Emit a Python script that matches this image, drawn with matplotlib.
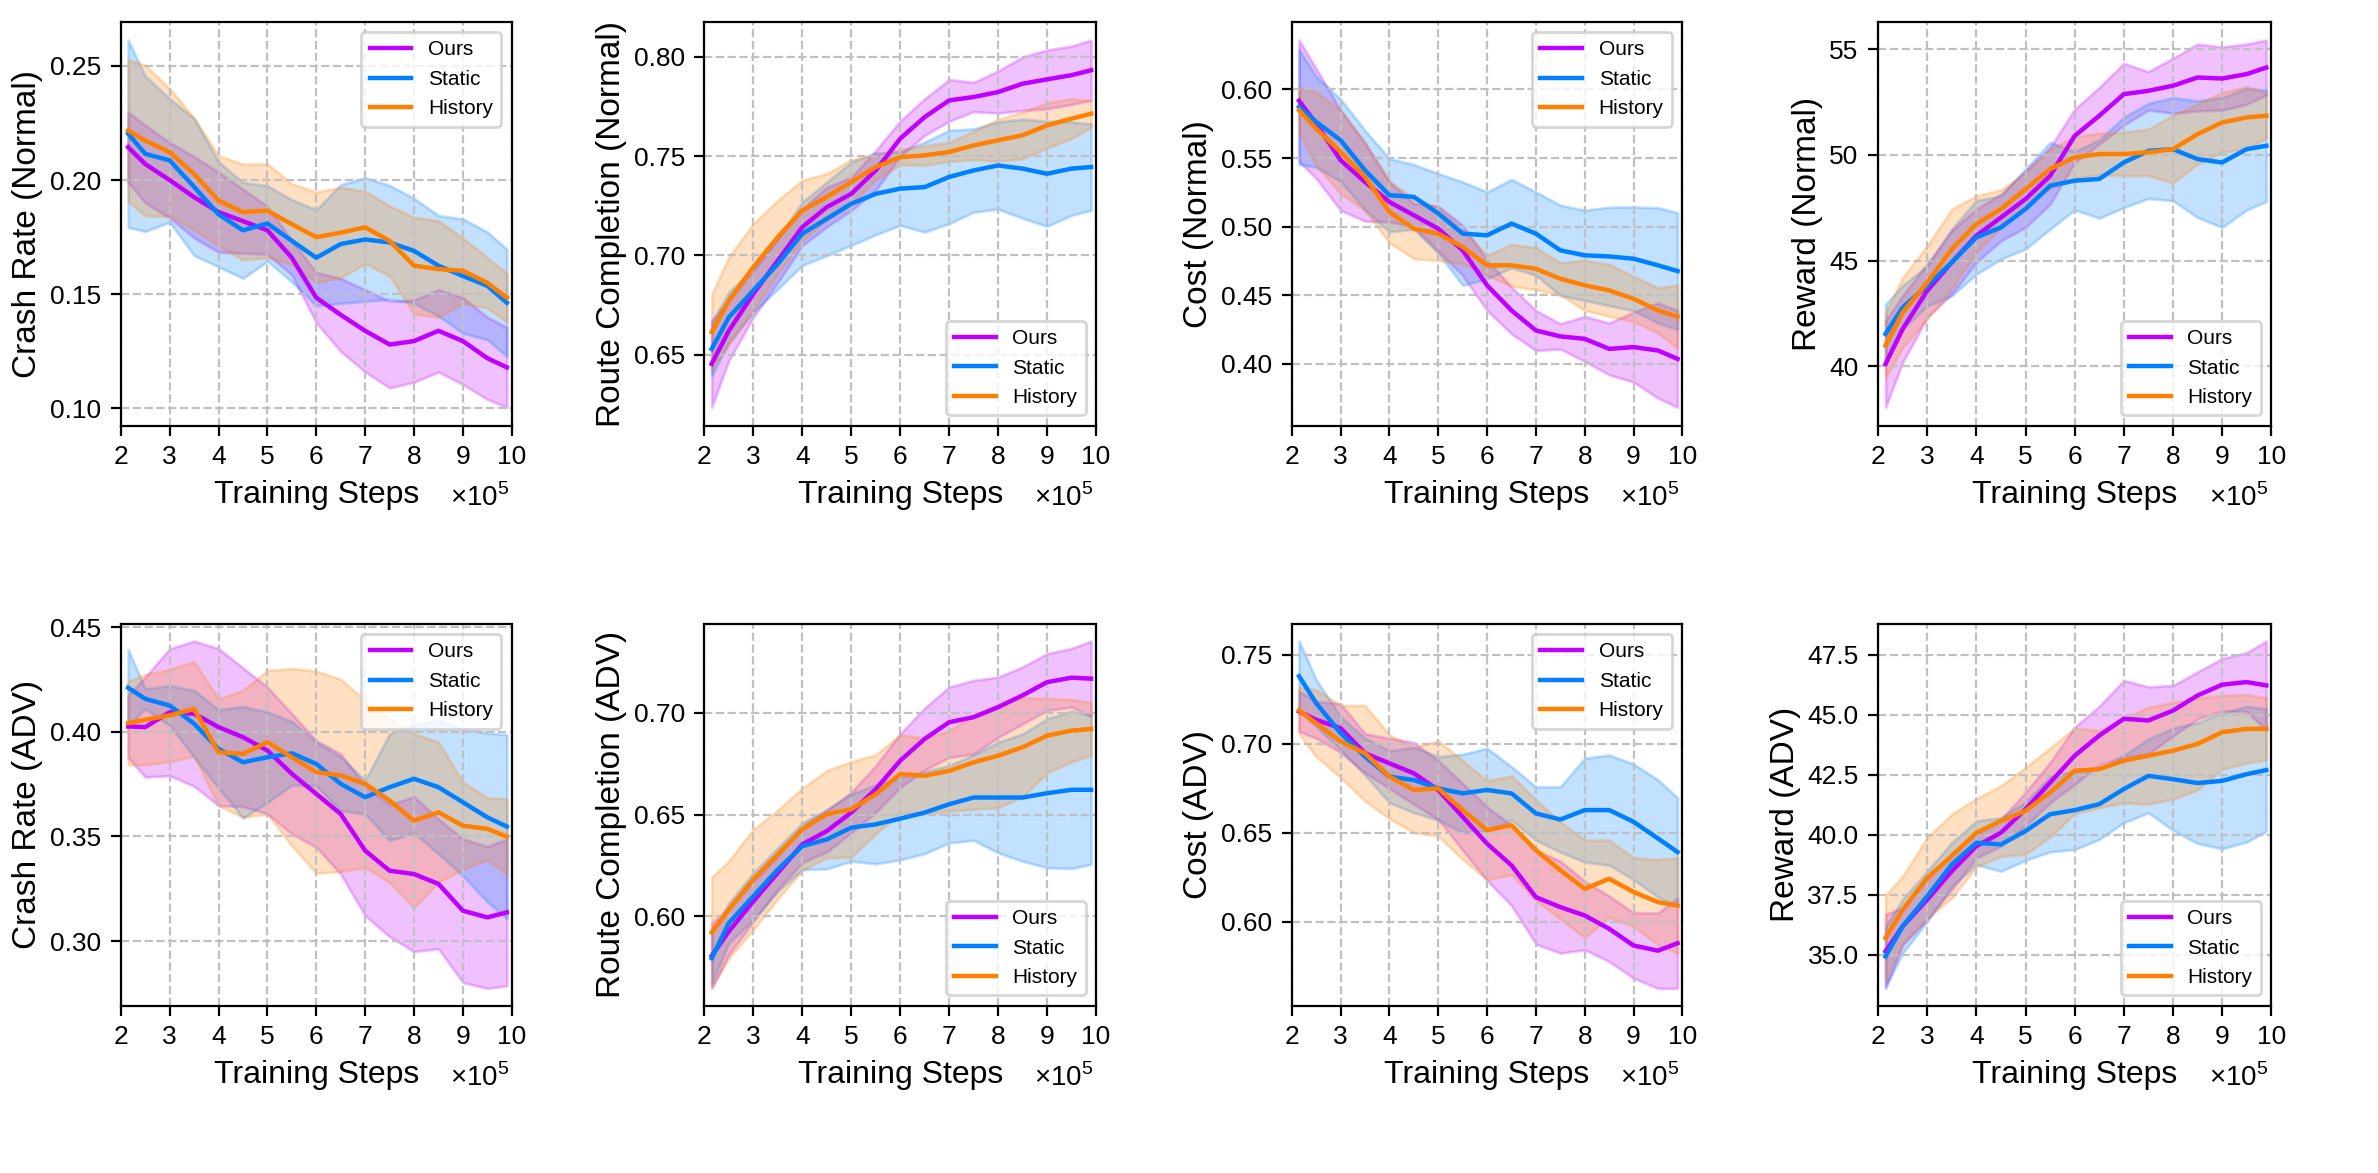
import matplotlib
matplotlib.use('Agg')
import matplotlib.pyplot as plt
import numpy as np

plt.rcParams['font.family'] = ['Liberation Sans', 'DejaVu Sans']
plt.rcParams['mathtext.fontset'] = 'custom'
plt.rcParams['mathtext.rm'] = 'Liberation Sans'

#------------------------------
# data (mean and std)
#------------------------------

steps = [2.15, 2.5, 3.0, 3.5, 4.0, 4.5, 5.0, 5.5, 6.0, 6.5, 7.0, 7.5, 8.0, 8.5, 9.0, 9.5, 9.9]
methods = ['Ours', 'Static', 'History']

# Crash Rate (Normal)
crash_n_ours = [0.2144, 0.207, 0.200, 0.1925, 0.186, 0.182, 0.178, 0.166, 0.1485, 0.141, 0.134, 0.128, 0.1295, 0.134, 0.1295, 0.122, 0.118]
crash_n_ours_sd = [0.0154, 0.017, 0.0165, 0.0178, 0.0175, 0.014, 0.0105, 0.0075, 0.011, 0.016, 0.018, 0.019, 0.018, 0.018, 0.019, 0.018, 0.0175]
crash_n_static = [0.2203, 0.2115, 0.2086, 0.197, 0.185, 0.178, 0.181, 0.1734, 0.166, 0.172, 0.174, 0.1727, 0.169, 0.1625, 0.158, 0.1537, 0.1463]
crash_n_static_sd = [0.041, 0.034, 0.027, 0.030, 0.023, 0.021, 0.0165, 0.018, 0.021, 0.026, 0.027, 0.025, 0.023, 0.022, 0.025, 0.0236, 0.0234]
crash_n_hist = [0.2217, 0.2173, 0.2122, 0.2027, 0.191, 0.186, 0.1866, 0.1807, 0.175, 0.177, 0.1793, 0.1734, 0.1625, 0.161, 0.1603, 0.155, 0.1485]
crash_n_hist_sd = [0.031, 0.033, 0.028, 0.0245, 0.0197, 0.021, 0.0205, 0.0177, 0.0198, 0.0198, 0.0158, 0.0153, 0.0212, 0.0211, 0.0143, 0.011, 0.0106]

# Route Completion (Normal)
route_n_ours = [0.6453, 0.662, 0.6806, 0.6974, 0.7142, 0.7243, 0.731, 0.7428, 0.7588, 0.7697, 0.7781, 0.7798, 0.7823, 0.7865, 0.7887, 0.7908, 0.7933]
route_n_ours_sd = [0.0219, 0.015, 0.0118, 0.011, 0.0093, 0.010, 0.0084, 0.010, 0.0089, 0.0092, 0.0105, 0.0074, 0.0106, 0.0135, 0.0148, 0.0147, 0.0152]
route_n_static = [0.6528, 0.6688, 0.6823, 0.6957, 0.7109, 0.7184, 0.726, 0.731, 0.7336, 0.7344, 0.7395, 0.7428, 0.7453, 0.7437, 0.7411, 0.7437, 0.7445]
route_n_static_sd = [0.0135, 0.0127, 0.011, 0.0127, 0.016, 0.0185, 0.021, 0.0206, 0.0185, 0.0227, 0.0235, 0.021, 0.022, 0.025, 0.0265, 0.0235, 0.0218]
route_n_hist = [0.6613, 0.6772, 0.694, 0.7092, 0.7226, 0.7294, 0.7369, 0.7445, 0.7495, 0.7504, 0.7521, 0.7554, 0.758, 0.7605, 0.7655, 0.7689, 0.7714]
route_n_hist_sd = [0.0189, 0.022, 0.0219, 0.0185, 0.0152, 0.0118, 0.0113, 0.0063, 0.0038, 0.005, 0.0047, 0.0072, 0.0105, 0.0118, 0.0114, 0.010, 0.0067]

# Cost (Normal)
cost_n_ours = [0.5917, 0.5752, 0.5484, 0.5326, 0.518, 0.5083, 0.4985, 0.4827, 0.4572, 0.4389, 0.4243, 0.420, 0.4182, 0.4109, 0.4122, 0.4097, 0.4036]
cost_n_ours_sd = [0.0443, 0.040, 0.0365, 0.0286, 0.0146, 0.0085, 0.0164, 0.0183, 0.0183, 0.017, 0.0146, 0.0092, 0.0164, 0.0189, 0.0255, 0.0347, 0.0353]
cost_n_static = [0.5873, 0.5764, 0.563, 0.5411, 0.5229, 0.5217, 0.5097, 0.4949, 0.4937, 0.5022, 0.4949, 0.4827, 0.4791, 0.4783, 0.4766, 0.4718, 0.4676]
cost_n_static_sd = [0.042, 0.033, 0.030, 0.029, 0.0267, 0.0236, 0.029, 0.0377, 0.0316, 0.0322, 0.0304, 0.0329, 0.0329, 0.0359, 0.0378, 0.042, 0.0426]
cost_n_hist = [0.5849, 0.5715, 0.5545, 0.5363, 0.5107, 0.4985, 0.4949, 0.4852, 0.4718, 0.4718, 0.4693, 0.462, 0.4572, 0.4535, 0.4474, 0.4389, 0.4345]
cost_n_hist_sd = [0.0168, 0.0268, 0.0304, 0.0244, 0.0225, 0.0219, 0.0195, 0.0122, 0.0073, 0.0152, 0.0153, 0.0116, 0.0183, 0.0189, 0.0165, 0.0165, 0.0231]

# Reward (Normal)
reward_n_ours = [40.11, 41.77, 43.58, 44.92, 46.18, 47.04, 47.91, 49.01, 50.90, 51.85, 52.87, 53.03, 53.27, 53.66, 53.61, 53.82, 54.13]
reward_n_ours_sd = [2.05, 1.58, 1.26, 1.5, 1.26, 1.1, 1.34, 1.34, 1.26, 1.34, 1.46, 0.91, 1.3, 1.58, 1.5, 1.42, 1.3]
reward_n_static = [41.53, 42.79, 43.81, 44.92, 46.10, 46.57, 47.44, 48.54, 48.78, 48.86, 49.64, 50.19, 50.27, 49.80, 49.64, 50.27, 50.43]
reward_n_static_sd = [1.41, 1.03, 0.95, 1.58, 1.74, 1.5, 1.89, 2.05, 1.38, 1.85, 2.13, 2.25, 2.44, 2.76, 3.07, 2.88, 2.63]
reward_n_hist = [40.98, 42.55, 43.97, 45.55, 46.73, 47.44, 48.38, 49.33, 49.88, 50.04, 50.04, 50.12, 50.27, 50.98, 51.53, 51.77, 51.85]
reward_n_hist_sd = [1.53, 1.65, 1.73, 1.89, 1.34, 0.9, 0.79, 0.94, 0.98, 0.98, 1.02, 1.1, 1.6, 1.42, 1.42, 1.46, 1.06]

# Crash Rate (ADV)
crash_a_ours = [0.4025, 0.4022, 0.4093, 0.4086, 0.4022, 0.3974, 0.391, 0.3799, 0.3703, 0.3607, 0.3432, 0.3336, 0.332, 0.3273, 0.3145, 0.3113, 0.3137]
crash_a_ours_sd = [0.0148, 0.0239, 0.0303, 0.0347, 0.0375, 0.0331, 0.0303, 0.0287, 0.0255, 0.0287, 0.0311, 0.0315, 0.037, 0.031, 0.0343, 0.0339, 0.0351]
crash_a_static = [0.421, 0.4157, 0.4125, 0.4038, 0.3918, 0.3854, 0.3878, 0.3897, 0.3846, 0.3751, 0.3687, 0.3735, 0.3775, 0.3735, 0.3663, 0.3591, 0.3547]
crash_a_static_sd = [0.0183, 0.0048, 0.0095, 0.016, 0.0187, 0.0267, 0.0216, 0.0152, 0.0104, 0.0128, 0.008, 0.0255, 0.0259, 0.0319, 0.0351, 0.0403, 0.0439]
crash_a_hist = [0.4041, 0.4057, 0.4078, 0.4109, 0.3902, 0.3894, 0.395, 0.3878, 0.3807, 0.3791, 0.3751, 0.3671, 0.3575, 0.3615, 0.3551, 0.3536, 0.3499]
crash_a_hist_sd = [0.020, 0.0216, 0.022, 0.0226, 0.0255, 0.0303, 0.0343, 0.0424, 0.0483, 0.0459, 0.0399, 0.0391, 0.0415, 0.0335, 0.0208, 0.0148, 0.018]

# Route Completion (ADV)
route_a_ours = [0.5806, 0.5926, 0.6074, 0.6214, 0.6354, 0.6419, 0.651, 0.6625, 0.6765, 0.6872, 0.6954, 0.6979, 0.7028, 0.7086, 0.7151, 0.7173, 0.7168]
route_a_ours_sd = [0.016, 0.0115, 0.0099, 0.0082, 0.009, 0.0103, 0.0099, 0.0115, 0.0132, 0.0152, 0.0173, 0.0181, 0.0148, 0.014, 0.014, 0.0144, 0.0185]
route_a_static = [0.5794, 0.5967, 0.6099, 0.623, 0.6345, 0.6378, 0.6436, 0.6452, 0.648, 0.651, 0.6551, 0.6584, 0.6584, 0.6584, 0.6605, 0.6622, 0.6622]
route_a_static_sd = [0.0124, 0.0099, 0.0115, 0.0107, 0.0115, 0.0145, 0.0165, 0.0194, 0.0202, 0.0202, 0.019, 0.021, 0.0272, 0.0313, 0.0366, 0.0387, 0.0366]
route_a_hist = [0.5921, 0.6033, 0.6181, 0.6304, 0.6428, 0.6502, 0.6526, 0.660, 0.6699, 0.6691, 0.6715, 0.6757, 0.6789, 0.6831, 0.6888, 0.6913, 0.6921]
route_a_hist_sd = [0.0271, 0.0239, 0.0247, 0.0218, 0.0202, 0.0214, 0.0235, 0.0194, 0.0193, 0.0185, 0.0198, 0.023, 0.0255, 0.0243, 0.0183, 0.0153, 0.013]

# Cost (ADV)
cost_a_ours = [0.7182, 0.7135, 0.7088, 0.6947, 0.689, 0.6834, 0.674, 0.6589, 0.6438, 0.6316, 0.6137, 0.6081, 0.6034, 0.5959, 0.5865, 0.5836, 0.5878]
cost_a_ours_sd = [0.0113, 0.0104, 0.0137, 0.011, 0.0141, 0.0174, 0.0165, 0.0188, 0.0207, 0.0226, 0.0264, 0.0259, 0.0193, 0.0184, 0.0184, 0.0212, 0.0254]
cost_a_static = [0.738, 0.7229, 0.706, 0.6928, 0.6815, 0.6796, 0.6749, 0.6721, 0.674, 0.6721, 0.6608, 0.6574, 0.6627, 0.6627, 0.6561, 0.6467, 0.6391]
cost_a_static_sd = [0.0198, 0.0132, 0.0094, 0.0104, 0.0146, 0.0184, 0.0179, 0.0221, 0.0235, 0.015, 0.015, 0.0184, 0.0292, 0.031, 0.0325, 0.033, 0.0306]
cost_a_hist = [0.7188, 0.7116, 0.7013, 0.6947, 0.6815, 0.674, 0.6749, 0.6627, 0.6514, 0.6542, 0.6401, 0.6288, 0.6184, 0.6241, 0.6166, 0.6109, 0.609]
cost_a_hist_sd = [0.0132, 0.0188, 0.0203, 0.0269, 0.0236, 0.024, 0.0268, 0.0278, 0.0278, 0.0278, 0.0283, 0.0273, 0.0273, 0.0217, 0.0193, 0.024, 0.0269]

# Reward (ADV)
reward_a_ours = [35.14, 36.19, 37.30, 38.49, 39.53, 40.09, 41.07, 42.18, 43.30, 44.14, 44.84, 44.77, 45.18, 45.81, 46.26, 46.37, 46.23]
reward_a_ours_sd = [1.54, 0.77, 0.84, 0.77, 0.49, 0.56, 0.7, 0.84, 1.19, 1.22, 1.6, 1.4, 1.05, 0.98, 1.09, 1.23, 1.85]
reward_a_static = [34.93, 36.19, 37.44, 38.77, 39.67, 39.60, 40.16, 40.86, 41.03, 41.28, 41.91, 42.46, 42.32, 42.16, 42.25, 42.53, 42.70]
reward_a_static_sd = [1.26, 1.12, 1.05, 0.91, 0.91, 1.12, 1.22, 1.57, 1.64, 1.47, 1.4, 1.54, 2.13, 2.52, 2.83, 2.83, 2.55]
reward_a_hist = [35.70, 36.88, 38.21, 39.12, 40.09, 40.58, 41.00, 41.77, 42.67, 42.74, 43.09, 43.30, 43.51, 43.79, 44.28, 44.42, 44.42]
reward_a_hist_sd = [1.78, 1.4, 1.68, 1.75, 1.43, 1.47, 1.81, 1.85, 1.78, 1.61, 1.75, 2.02, 2.02, 1.92, 1.54, 1.43, 1.29]

panels = [
    ('Crash Rate (Normal)', [(crash_n_ours, crash_n_ours_sd), (crash_n_static, crash_n_static_sd), (crash_n_hist, crash_n_hist_sd)], 'upper right'),
    ('Route Completion (Normal)', [(route_n_ours, route_n_ours_sd), (route_n_static, route_n_static_sd), (route_n_hist, route_n_hist_sd)], 'lower right'),
    ('Cost (Normal)', [(cost_n_ours, cost_n_ours_sd), (cost_n_static, cost_n_static_sd), (cost_n_hist, cost_n_hist_sd)], 'upper right'),
    ('Reward (Normal)', [(reward_n_ours, reward_n_ours_sd), (reward_n_static, reward_n_static_sd), (reward_n_hist, reward_n_hist_sd)], 'lower right'),
    ('Crash Rate (ADV)', [(crash_a_ours, crash_a_ours_sd), (crash_a_static, crash_a_static_sd), (crash_a_hist, crash_a_hist_sd)], 'upper right'),
    ('Route Completion (ADV)', [(route_a_ours, route_a_ours_sd), (route_a_static, route_a_static_sd), (route_a_hist, route_a_hist_sd)], 'lower right'),
    ('Cost (ADV)', [(cost_a_ours, cost_a_ours_sd), (cost_a_static, cost_a_static_sd), (cost_a_hist, cost_a_hist_sd)], 'upper right'),
    ('Reward (ADV)', [(reward_a_ours, reward_a_ours_sd), (reward_a_static, reward_a_static_sd), (reward_a_hist, reward_a_hist_sd)], 'lower right'),
]

colors = ['#BF00FF', '#0080FF', '#FF8000']

#------------------------------
# layout: axes boxes in figure fractions
#------------------------------

lefts = [0.0508, 0.2962, 0.5432, 0.7898]
widths = [0.1644, 0.1647, 0.1643, 0.1653]
row_bottom = [0.6371, 0.1426]
row_height = [0.3444, 0.3257]

fig = plt.figure(figsize=(11.89, 5.865), dpi=200)

x = np.array(steps)
for i, (ylabel, series, loc) in enumerate(panels):
    r, c = divmod(i, 4)
    ax = fig.add_axes([lefts[c], row_bottom[r], widths[c], row_height[r]])
    for (mean, sd), name, col in zip(series, methods, colors):
        mean = np.array(mean)
        sd = np.array(sd)
        ax.fill_between(x, mean - sd, mean + sd, color=col, alpha=0.24, linewidth=1)
        ax.plot(x, mean, color=col, lw=1.6, label=name)
    ax.set_xlim(2, 10)
    ax.set_xticks(range(2, 11))
    ax.grid(True, ls='--', color='#c0c0c0', lw=0.8)
    ax.tick_params(labelsize=9.5)
    ax.set_xlabel('Training Steps', fontsize=11.5)
    ax.set_ylabel(ylabel, fontsize=12, labelpad=2.5)
    ax.annotate(r'$\times10^5$', xy=(1, 0), xycoords='axes fraction', xytext=(-1, -29),
                textcoords='offset points', ha='right', va='baseline', fontsize=10)
    leg = ax.legend(loc=loc, fontsize=7.5, handlelength=2.0)

plt.savefig('out.png', dpi=200)
